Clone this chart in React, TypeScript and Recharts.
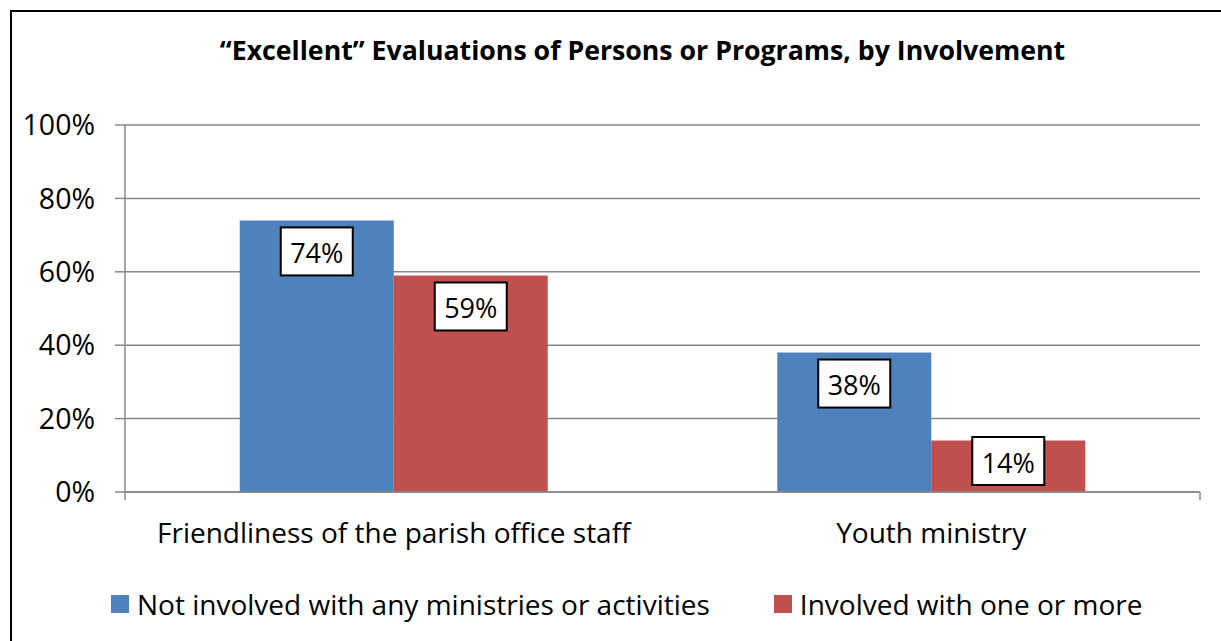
import React from 'react'
import { BarChart, Bar, XAxis, YAxis, CartesianGrid, Legend, LabelList } from 'recharts'

const categories = ['Friendliness of the parish office staff', 'Youth ministry']
const notInvolved = [0.74, 0.38]
const involved = [0.59, 0.14]
const seriesNames = ['Not involved with any ministries or activities', 'Involved with one or more']
const yTicks = [0, 0.2, 0.4, 0.6, 0.8, 1]

const BLUE = '#4F81BD'
const RED = '#C0504D'
const GRID = '#878787'
const FONT = '"Open Sans", Lato, sans-serif'

const rows = categories.map((name, i) => ({
  name,
  notInvolved: notInvolved[i],
  involved: involved[i],
}))

// category boundaries, used for the small tick marks under the x axis
const edgeTicks = [...categories.map((_, i) => i), categories.length]

const pct = (v: number) => `${Math.round(v * 100)}%`

function BoxLabel(props: any) {
  const { x, y, width, height, value } = props
  const bw = 72
  const bh = 48
  const top = Math.min(y + 7, y + height - 7 - bh)
  const cx = x + width / 2
  return (
    <g>
      <rect x={cx - bw / 2} y={top} width={bw} height={bh} fill="#fff" stroke="#000" strokeWidth={2} />
      <text x={cx} y={top + bh / 2 + 1} textAnchor="middle" dominantBaseline="central" fontSize={27} fill="#000" fontFamily={FONT}>
        {pct(value)}
      </text>
    </g>
  )
}

function LegendBox(props: any) {
  const items = [...(props.payload || [])].sort(
    (a: any, b: any) => seriesNames.indexOf(a.value) - seriesNames.indexOf(b.value)
  )
  return (
    <div style={{ display: 'flex', alignItems: 'center', fontFamily: FONT, fontSize: 28, color: '#000', whiteSpace: 'nowrap' }}>
      {items.map((p: any, i: number) => (
        <div key={i} style={{ display: 'flex', alignItems: 'center', marginRight: 64 }}>
          <span style={{ width: 18, height: 18, background: p.color, display: 'inline-block', marginRight: 8 }} />
          <span>{p.value}</span>
        </div>
      ))}
    </div>
  )
}

const NoTick = () => <g />

export default function App() {
  return (
    <div style={{ position: 'absolute', left: 0, top: 0, width: 1221, height: 641, overflow: 'hidden', background: '#fff', fontFamily: FONT }}>
      <div style={{ position: 'absolute', left: 10, top: 10, width: 1300, height: 700, border: '2px solid #000' }} />
      <div style={{ position: 'absolute', left: 0, top: 31, width: 1285, textAlign: 'center', fontWeight: 700, fontSize: 26.7, color: '#000' }}>
        “Excellent” Evaluations of Persons or Programs, by Involvement
      </div>
      <div style={{ position: 'absolute', left: 0, top: 0 }}>
        <BarChart
          width={1221}
          height={641}
          data={rows}
          margin={{ top: 125, right: 21, bottom: 89, left: 15 }}
          barGap={0}
          barCategoryGap="21.35%"
          style={{ fontFamily: FONT }}
        >
          <CartesianGrid vertical={false} stroke={GRID} strokeWidth={1.5} />
          <XAxis
            xAxisId="a"
            type="number"
            domain={[0, categories.length]}
            allowDataOverflow
            ticks={edgeTicks}
            tick={NoTick}
            tickSize={8}
            height={1}
            axisLine={{ stroke: GRID, strokeWidth: 1.5 }}
            tickLine={{ stroke: GRID, strokeWidth: 1.5 }}
            interval={0}
          />
          <XAxis
            xAxisId="b"
            dataKey="name"
            height={59}
            tickLine={false}
            tickMargin={24}
            axisLine={false}
            tick={{ fontSize: 28, fill: '#000' }}
            interval={0}
          />
          <YAxis
            domain={[0, 1]}
            ticks={yTicks}
            tickFormatter={pct}
            width={110}
            tickSize={10}
            tickMargin={20}
            axisLine={{ stroke: GRID, strokeWidth: 1.5 }}
            tickLine={{ stroke: GRID, strokeWidth: 1.5 }}
            tick={{ fontSize: 28.5, fill: '#000' }}
            interval={0}
          />
          <Legend
            layout="horizontal"
            verticalAlign="middle"
            wrapperStyle={{ left: 111, top: 585, width: 'auto' }}
            content={LegendBox}
          />
          <Bar xAxisId="b" dataKey="notInvolved" name={seriesNames[0]} fill={BLUE} isAnimationActive={false}>
            <LabelList dataKey="notInvolved" content={BoxLabel} />
          </Bar>
          <Bar xAxisId="b" dataKey="involved" name={seriesNames[1]} fill={RED} isAnimationActive={false}>
            <LabelList dataKey="involved" content={BoxLabel} />
          </Bar>
        </BarChart>
      </div>
    </div>
  )
}
